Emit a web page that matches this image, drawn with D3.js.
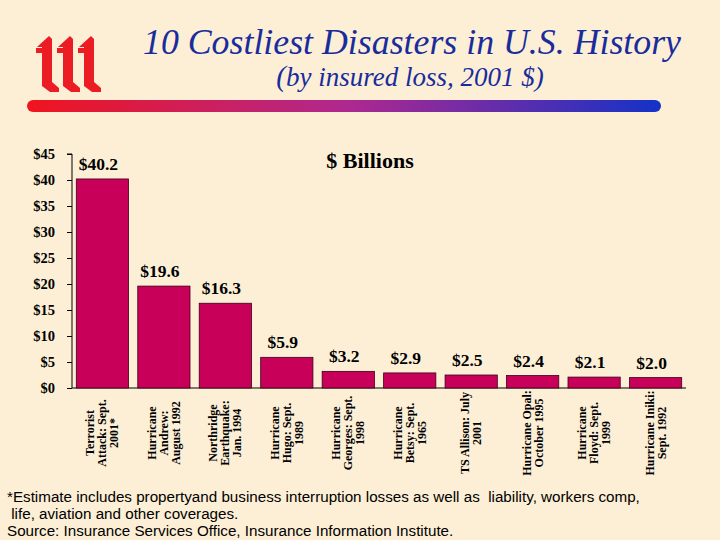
<!DOCTYPE html>
<html>
<head>
<meta charset="utf-8">
<script src="https://cdn.jsdelivr.net/npm/d3@7"></script>
<style>
  body { margin: 0; background: #fcefd6; }
  svg { display: block; }
</style>
</head>
<body>
<svg></svg>
<script>
// Data
const disasters = [
    ["Terrorist", "Attack: Sept.", "2001*"],
    ["Hurricane", "Andrew:", "August 1992"],
    ["Northridge", "Earthquake:", "Jan. 1994"],
    ["Hurricane", "Hugo: Sept.", "1989"],
    ["Hurricane", "Georges: Sept.", "1998"],
    ["Hurricane", "Betsy: Sept.", "1965"],
    ["TS Allison: July", "2001"],
    ["Hurricane Opal:", "October 1995"],
    ["Hurricane", "Floyd: Sept.", "1999"],
    ["Hurricane Iniki:", "Sept. 1992"]
];
const losses = [40.2, 19.6, 16.3, 5.9, 3.2, 2.9, 2.5, 2.4, 2.1, 2.0];
const yTicks = [0, 5, 10, 15, 20, 25, 30, 35, 40, 45];

const serif = "'Liberation Serif', 'Times New Roman', serif";
const width = 720, height = 540;
const svg = d3.select("svg").attr("width", width).attr("height", height);

// Background
svg.append("rect").attr("width", width).attr("height", height).attr("fill", "#fcefd6");

// Logo (iii)
const logo = svg.append("g").attr("fill", "#ec1c24");
[0, 1, 2].forEach(i => {
    const x0 = 36 + i * 21;
    logo.append("path")
        .attr("d", `M${x0 + 1},47 L${x0 + 13},36 L${x0 + 16},39 L${x0 + 16},47 Z`);
    logo.append("rect").attr("x", x0).attr("y", 48).attr("width", 16).attr("height", 5);
    logo.append("rect").attr("x", x0 + 6).attr("y", 44).attr("width", 10).attr("height", 40);
    logo.append("path")
        .attr("d", `M${x0 + 6},82 L${x0 + 16},82 L${x0 + 23},88 L${x0 + 23},92 L${x0 + 14},92 L${x0 + 6},86 Z`);
});

// Title
svg.append("text")
    .attr("x", 412)
    .attr("y", 54)
    .attr("text-anchor", "middle")
    .attr("textLength", 538)
    .attr("lengthAdjust", "spacingAndGlyphs")
    .style("font-family", serif)
    .style("font-style", "italic")
    .style("font-size", "35px")
    .attr("fill", "#1a2c9c")
    .text("10 Costliest Disasters in U.S. History");

const sub = svg.append("text")
    .attr("x", 410)
    .attr("y", 86)
    .attr("text-anchor", "middle")
    .style("font-family", serif)
    .style("font-style", "italic")
    .style("font-size", "27px")
    .attr("fill", "#1a2c9c");
sub.append("tspan").style("font-size", "29px").text("(");
sub.append("tspan").text("by insured loss, 2001 $)");

// Gradient rule
const defs = svg.append("defs");
const grad = defs.append("linearGradient").attr("id", "rule");
grad.append("stop").attr("offset", "0%").attr("stop-color", "#f0141e");
grad.append("stop").attr("offset", "50%").attr("stop-color", "#b0288e");
grad.append("stop").attr("offset", "100%").attr("stop-color", "#1432c8");
svg.append("rect")
    .attr("x", 27).attr("y", 100)
    .attr("width", 634).attr("height", 12)
    .attr("rx", 6)
    .attr("fill", "url(#rule)");

// Chart
const margin = {left: 72, top: 154, right: 34, bottom: 152};
const plotW = width - margin.left - margin.right;
const plotH = height - margin.top - margin.bottom;
const g = svg.append("g").attr("transform", `translate(${margin.left},${margin.top})`);

const x = d3.scaleBand()
    .domain(d3.range(losses.length))
    .range([0, plotW])
    .paddingInner(0.15)
    .paddingOuter(0.07);

const y = d3.scaleLinear().domain([0, 45]).range([plotH, 0]);

g.append("g")
    .call(d3.axisLeft(y).tickValues(yTicks).tickSize(5).tickFormat(d => "$" + d))
    .call(a => a.select(".domain").attr("stroke", "#000").attr("d", `M-5,0H0V${plotH}`))
    .call(a => a.selectAll("text")
        .attr("x", -17)
        .style("font-family", serif)
        .style("font-weight", "bold")
        .style("font-size", "14.5px")
        .attr("fill", "#000"));

g.append("line")
    .attr("x1", 0).attr("x2", plotW)
    .attr("y1", plotH).attr("y2", plotH)
    .attr("stroke", "#000");

g.selectAll("rect.bar")
    .data(losses)
    .join("rect")
    .attr("class", "bar")
    .attr("x", (d, i) => x(i))
    .attr("y", d => y(d))
    .attr("width", x.bandwidth())
    .attr("height", d => plotH - y(d))
    .attr("fill", "#c8005a")
    .attr("stroke", "#3a0018")
    .attr("stroke-width", 0.8);

g.selectAll("text.val")
    .data(losses)
    .join("text")
    .attr("class", "val")
    .attr("x", (d, i) => x(i) + x.bandwidth() / 2 - 4)
    .attr("y", d => y(d) - 9)
    .attr("text-anchor", "middle")
    .style("font-family", serif)
    .style("font-weight", "bold")
    .style("font-size", "17.5px")
    .text(d => "$" + d.toFixed(1));

g.append("text")
    .attr("x", 298)
    .attr("y", 14)
    .attr("text-anchor", "middle")
    .style("font-family", serif)
    .style("font-weight", "bold")
    .style("font-size", "22px")
    .text("$ Billions");

// Category labels (rotated)
disasters.forEach((lines, i) => {
    const cx = x(i) + x.bandwidth() / 2;
    const n = lines.length;
    const t = g.append("text")
        .attr("transform", `translate(${cx},${plotH + 45}) rotate(-90)`)
        .attr("text-anchor", "middle")
        .style("font-family", serif)
        .style("font-weight", "bold")
        .style("font-size", "12px");
    lines.forEach((s, j) => {
        t.append("tspan")
            .attr("x", 0)
            .attr("y", (j - (n - 1) / 2) * 12 + 4)
            .text(s);
    });
});

// Footnote
const notes = [
    "*Estimate includes propertyand business interruption losses as well as  liability, workers comp,",
    " life, aviation and other coverages.",
    "Source: Insurance Services Office, Insurance Information Institute."
];
svg.selectAll("text.note")
    .data(notes)
    .join("text")
    .attr("class", "note")
    .attr("x", 7)
    .attr("y", (d, i) => 502 + i * 17)
    .style("font-family", "'Liberation Sans', Arial, sans-serif")
    .style("font-size", "15.2px")
    .style("white-space", "pre")
    .text(d => d);
</script>
</body>
</html>
